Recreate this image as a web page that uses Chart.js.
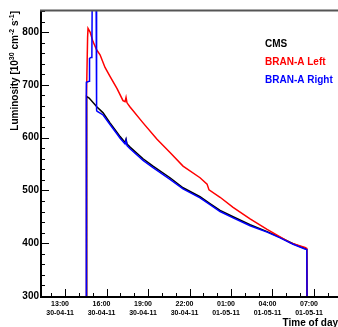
<!DOCTYPE html>
<html>
<head>
<meta charset="utf-8">
<script src="https://cdn.jsdelivr.net/npm/chart.js@4"></script>
<style>
  html, body { margin: 0; padding: 0; background: #fff; overflow: hidden; }
  #wrap { width: 340px; height: 327px; }
</style>
</head>
<body>
<div id="wrap"><canvas id="lumi" width="340" height="327"></canvas></div>
<script>
// time in hours since 00:00 on 30-04-11, luminosity in 10^30 cm^-2 s^-1
const cmsTime = [14.52, 14.53, 14.57, 14.58, 14.74, 15.31, 15.75, 16.25, 16.76, 16.98, 17.34, 17.41, 17.48, 17.70, 18.64, 19.36, 20.59, 21.53, 22.76, 23.48, 24.21, 25.15, 26.38, 27.61, 28.55, 29.49, 30.35, 30.48, 30.50];
const cmsLumi = [290, 575, 578, 678, 675, 658, 647, 628, 610, 602, 591, 597, 588, 582, 560, 546, 524, 505, 488, 475, 462, 450, 435, 422, 411, 399, 390, 388, 290];

const leftTime = [14.52, 14.55, 14.63, 14.66, 14.81, 15.02, 15.29, 15.53, 15.89, 16.25, 16.76, 17.19, 17.34, 17.41, 17.48, 17.70, 18.64, 19.65, 20.59, 21.53, 22.76, 23.27, 23.41, 24.21, 25.15, 26.38, 27.61, 28.55, 29.27, 29.49, 30.35, 30.48, 30.50];
const leftLumi = [290, 680, 790, 807, 800, 782, 766, 757, 733, 716, 693, 670, 668, 676, 666, 658, 628, 597, 572, 546, 524, 512, 501, 487, 468, 446, 426, 412, 401, 399, 392, 390, 290];

const rightTime = [14.52, 14.54, 14.74, 14.77, 14.88, 14.94, 14.97, 15.24, 15.28, 15.31, 15.75, 16.25, 16.76, 16.98, 17.34, 17.41, 17.48, 17.70, 18.64, 19.36, 20.59, 21.53, 22.76, 23.48, 24.21, 25.15, 26.38, 27.61, 28.55, 29.49, 30.35, 30.48, 30.50];
const rightLumi = [290, 705, 707, 750, 752, 760, 900, 900, 652, 650, 643, 625, 607, 599, 588, 595, 585, 579, 557, 543, 521, 503, 486, 473, 460, 448, 433, 421, 410, 398, 389, 388, 290];

const xTickHours = [13, 16, 19, 22, 25, 28, 31];
const xTickTimes = ['13:00', '16:00', '19:00', '22:00', '01:00', '04:00', '07:00'];
const xTickDates = ['30-04-11', '30-04-11', '30-04-11', '30-04-11', '01-05-11', '01-05-11', '01-05-11'];
const yTickLabels = [300, 400, 500, 600, 700, 800];

const FONT = 'Liberation Sans';
const toXY = (t, v) => t.map((x, i) => ({ x, y: v[i] }));

// ROOT-style frame: inner ticks, axis titles, text legend
const rootFrame = {
  id: 'rootFrame',
  afterDraw(chart) {
    const { ctx, chartArea: a, scales: { x, y } } = chart;
    ctx.save();
    ctx.strokeStyle = '#000';
    ctx.lineWidth = 1;
    ctx.beginPath();
    y.ticks.forEach(t => {
      const py = Math.round(y.getPixelForValue(t.value)) + 0.5;
      const len = Math.round(t.value) % 100 === 0 ? 8 : 4;
      ctx.moveTo(a.left, py); ctx.lineTo(a.left + len, py);
    });
    x.ticks.forEach(t => {
      const px = Math.round(x.getPixelForValue(t.value)) + 0.5;
      const len = (Math.round(t.value) - 13) % 3 === 0 ? 8 : 4;
      ctx.moveTo(px, a.bottom); ctx.lineTo(px, a.bottom - len);
    });
    ctx.stroke();

    ctx.lineWidth = 2;
    ctx.beginPath();
    ctx.moveTo(a.left, a.top); ctx.lineTo(a.left, a.bottom);
    ctx.lineTo(a.right + 2, a.bottom);
    ctx.stroke();
    ctx.strokeStyle = '#555';
    ctx.beginPath();
    ctx.moveTo(a.left - 1, a.top - 0.5); ctx.lineTo(a.right + 2, a.top - 0.5);
    ctx.stroke();

    // y title with superscripts
    const base = `bold 10px "${FONT}"`, sup = `bold 7px "${FONT}"`;
    const parts = [['Luminosity [10', 0], ['30', 1], [' cm', 0], ['-2', 1], [' s', 0], ['-1', 1], [']', 0]];
    ctx.fillStyle = '#000';
    ctx.textAlign = 'left';
    ctx.textBaseline = 'alphabetic';
    let w = 0;
    parts.forEach(p => { ctx.font = p[1] ? sup : base; w += ctx.measureText(p[0]).width; });
    ctx.save();
    ctx.translate(17.5, a.top);
    ctx.rotate(-Math.PI / 2);
    let u = -w;
    parts.forEach(p => {
      ctx.font = p[1] ? sup : base;
      ctx.fillText(p[0], u, p[1] ? -4 : 0);
      u += ctx.measureText(p[0]).width;
    });
    ctx.restore();

    // x title
    ctx.font = base;
    ctx.textAlign = 'right';
    ctx.fillText('Time of day', 338, 326);

    // legend
    ctx.textAlign = 'left';
    ctx.font = base;
    chart.data.datasets.forEach((ds, i) => {
      ctx.fillStyle = ds.borderColor;
      ctx.fillText(ds.label, 265, 46.5 + i * 18.3);
    });
    ctx.restore();
  }
};

new Chart(document.getElementById('lumi'), {
  type: 'line',
  data: {
    datasets: [
      { label: 'CMS', data: toXY(cmsTime, cmsLumi), borderColor: '#000000', order: 3 },
      { label: 'BRAN-A Left', data: toXY(leftTime, leftLumi), borderColor: '#ff0000', order: 2 },
      { label: 'BRAN-A Right', data: toXY(rightTime, rightLumi), borderColor: '#0000ff', order: 1 },
    ],
  },
  options: {
    responsive: false,
    animation: false,
    layout: { padding: { top: 11, right: 1, left: 0, bottom: 0 } },
    elements: {
      point: { radius: 0 },
      line: { borderWidth: 1.5, tension: 0, fill: false },
    },
    plugins: { legend: { display: false }, tooltip: { enabled: false } },
    scales: {
      x: {
        type: 'linear',
        min: 11.26,
        max: 32.81,
        afterFit: s => { s.height = 30; },
        grid: { drawOnChartArea: false, drawTicks: false },
        border: { display: false },
        ticks: {
          stepSize: 1,
          includeBounds: false,
          autoSkip: false,
          maxRotation: 0,
          padding: 3,
          labelOffset: -5,
          color: '#000',
          font: { family: FONT, size: 7, weight: 'bold', lineHeight: 1.2 },
          callback: v => {
            const i = xTickHours.indexOf(Math.round(v));
            return i < 0 || Math.abs(v - Math.round(v)) > 0.01 ? '' : [xTickTimes[i], xTickDates[i]];
          },
        },
      },
      y: {
        min: 298,
        max: 840,
        afterFit: s => { s.width = 41; },
        grid: { drawOnChartArea: false, drawTicks: false },
        border: { display: false },
        ticks: {
          stepSize: 20,
          includeBounds: false,
          autoSkip: false,
          padding: 2,
          color: '#000',
          font: { family: FONT, size: 10, weight: 'bold' },
          callback: v => yTickLabels.includes(Math.round(v)) ? String(Math.round(v)) : '',
        },
      },
    },
  },
  plugins: [rootFrame],
});
</script>
</body>
</html>
